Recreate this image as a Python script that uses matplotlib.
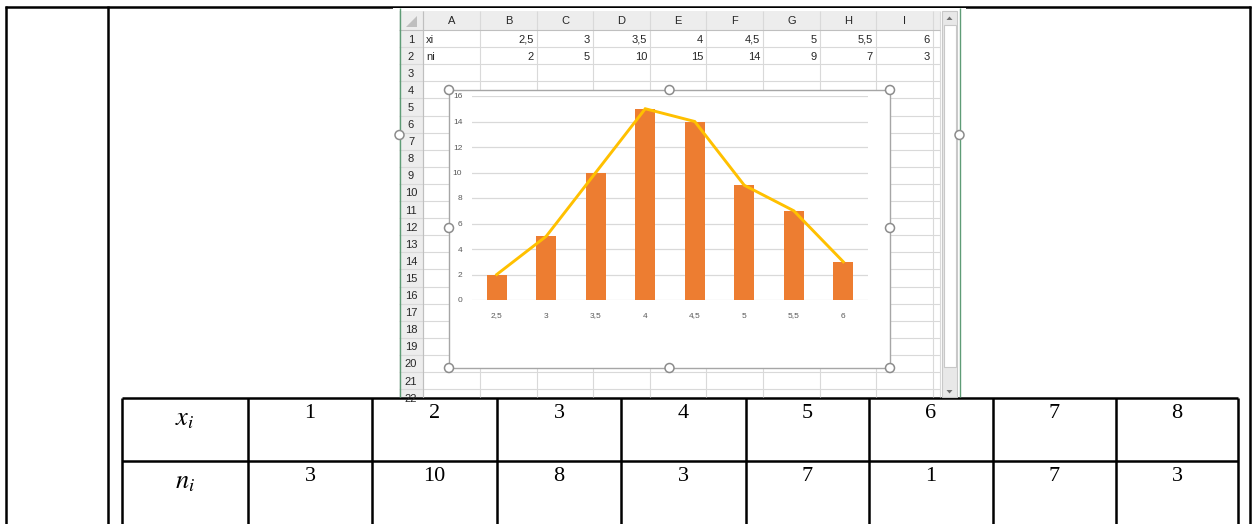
import matplotlib
matplotlib.use("Agg")
import matplotlib.pyplot as plt
from matplotlib.patches import Rectangle, Circle, Polygon

# ---------------- data ----------------
xi_labels = ["2,5", "3", "3,5", "4", "4,5", "5", "5,5", "6"]
ni_values = [2, 5, 10, 15, 14, 9, 7, 3]
col_letters = ["A", "B", "C", "D", "E", "F", "G", "H", "I"]
row_names = ["xi", "ni"]
y_ticks = [0, 2, 4, 6, 8, 10, 12, 14, 16]

table_x = [1, 2, 3, 4, 5, 6, 7, 8]
table_n = [3, 10, 8, 3, 7, 1, 7, 3]
table_heads = [r"$x_i$", r"$n_i$"]

W, H = 1254, 524
fig = plt.figure(figsize=(W / 100, H / 100), dpi=100)
plt.rcParams["mathtext.fontset"] = "stix"
bg = fig.add_axes([0, 0, 1, 1])
bg.set_xlim(0, W)
bg.set_ylim(H, 0)
bg.axis("off")

def line(x0, y0, x1, y1, c="black", lw=1.0, z=1):
    bg.plot([x0, x1], [y0, y1], color=c, lw=lw, solid_capstyle="butt", zorder=z)

# ---------------- document table lines ----------------
LW = 1.8
line(5, 6.5, 1251, 6.5, lw=LW)
line(6, 6, 6, H, lw=LW)
line(108, 6, 108, H, lw=LW)
line(1250, 6, 1250, H, lw=LW)

# bottom table
tcols = [122, 248, 372, 497, 621, 746, 869, 993, 1116, 1238]
line(122, 398, 1238, 398, lw=LW)
line(122, 461, 1238, 461, lw=LW)
for x in tcols:
    line(x, 398, x, H, lw=LW)
for r, (head, vals) in enumerate(zip(table_heads, [table_x, table_n])):
    ytop = 404 + r * 63
    bg.text((tcols[0] + tcols[1]) / 2, ytop + 1, head, fontsize=19, ha="center", va="top")
    for i, v in enumerate(vals):
        bg.text((tcols[i + 1] + tcols[i + 2]) / 2, ytop, str(v),
                fontsize=16, family="Liberation Serif", ha="center", va="top")

# ---------------- Excel screenshot ----------------
SX0, SX1, SY0, SY1 = 393, 966, 7.5, 397
bg.add_patch(Rectangle((SX0, SY0), SX1 - SX0, SY1 - SY0, fc="white", ec="none", zorder=2))

col_edges = [423, 480, 537, 593, 650, 706, 763, 820, 876, 933]
hdr_top, hdr_bot = 11, 30
row_h = 17.1
grid_c = "#D9D9D9"
ex_font = dict(family="Liberation Sans", fontsize=8, color="#262626", zorder=4)

# header row background
bg.add_patch(Rectangle((399, hdr_top), 940 - 399, hdr_bot - hdr_top, fc="#EDEDED", ec="none", zorder=2.5))
# row header column background
bg.add_patch(Rectangle((399, hdr_bot), 423 - 399, SY1 - hdr_bot, fc="#EDEDED", ec="none", zorder=2.5))
bg.add_patch(Polygon([[417, 16], [417, 27], [406, 27]], closed=True, fc="#BFBFBF", ec="none", zorder=3))

# grid lines
for x in col_edges + [940]:
    line(x, hdr_top, x, SY1, c=grid_c, lw=0.8, z=2.6)
line(399, hdr_bot, 940, hdr_bot, c="#BFBFBF", lw=0.8, z=2.6)
for k in range(1, 23):
    y = hdr_bot + k * row_h
    if y < SY1:
        line(399, y, 940, y, c=grid_c, lw=0.8, z=2.6)
line(423, hdr_top, 423, SY1, c="#BFBFBF", lw=0.8, z=2.6)

# column letters
for i, c in enumerate(col_letters):
    bg.text((col_edges[i] + col_edges[i + 1]) / 2, (hdr_top + hdr_bot) / 2 + 0.5, c,
            ha="center", va="center", **ex_font)
# row numbers
for k in range(1, 23):
    yc = hdr_bot + (k - 0.5) * row_h
    if yc - 6 < SY1:
        bg.text(411, yc + 1, str(k), ha="center", va="center", clip_on=True, **ex_font)

# cell contents
for r, (name, vals) in enumerate(zip(row_names, [xi_labels, [str(v) for v in ni_values]])):
    yc = hdr_bot + (r + 0.5) * row_h + 1
    bg.text(426, yc, name, ha="left", va="center", **ex_font)
    for i, v in enumerate(vals):
        bg.text(col_edges[i + 2] - 3, yc, v, ha="right", va="center", **ex_font)

# scrollbar
bg.add_patch(Rectangle((942, hdr_top), 15, SY1 - hdr_top, fc="#E8E8E8", ec="#C8C8C8", lw=0.8, zorder=2.7))
bg.add_patch(Rectangle((943.5, 25), 12, 342, fc="white", ec="#C8C8C8", lw=0.8, zorder=2.8))
bg.add_patch(Polygon([[946.5, 20], [952.5, 20], [949.5, 16.5]], closed=True, fc="#707070", ec="none", zorder=3))
bg.add_patch(Polygon([[946.5, 390], [952.5, 390], [949.5, 393.5]], closed=True, fc="#707070", ec="none", zorder=3))

# green borders of the window
line(399.5, SY0, 399.5, SY1, c="#5E9C76", lw=1.0, z=3)
line(959.5, SY0, 959.5, SY1, c="#5E9C76", lw=1.0, z=3)

# chart area
CX0, CX1, CY0, CY1 = 449, 890, 90, 368
bg.add_patch(Rectangle((CX0, CY0), CX1 - CX0, CY1 - CY0, fc="white", ec="#A6A6A6", lw=1.0, zorder=3))

def handle(x, y):
    bg.add_patch(Circle((x, y), 4.5, fc="white", ec="#8C8C8C", lw=1.1, zorder=6))

for hx, hy in [(CX0, CY0), ((CX0 + CX1) / 2, CY0), (CX1, CY0), (CX0, 228), (CX1, 228),
               (CX0, CY1), ((CX0 + CX1) / 2, CY1), (CX1, CY1), (399.5, 135), (959.5, 135)]:
    handle(hx, hy)

# ---------------- the chart itself ----------------
PX0, PX1, PY0, PY1 = 472, 868, 96, 300
ax = fig.add_axes([PX0 / W, 1 - PY1 / H, (PX1 - PX0) / W, (PY1 - PY0) / H])
ax.set_facecolor("none")
ax.set_zorder(5)
pos = list(range(len(xi_labels)))
ax.bar(pos, ni_values, width=0.4, color="#ED7D31", zorder=2)
ax.plot(pos, ni_values, color="#FFC000", lw=2.1, zorder=3, solid_joinstyle="miter")
ax.set_xlim(-0.5, len(xi_labels) - 0.5)
ax.set_ylim(0, 16)
ax.set_yticks(y_ticks)
ax.set_xticks(pos)
ax.set_xticklabels(xi_labels)
ax.yaxis.grid(True, color="#D9D9D9", lw=0.9, zorder=0)
ax.set_axisbelow(True)
for s in ax.spines.values():
    s.set_visible(False)
ax.tick_params(length=0, labelsize=6, labelcolor="#595959", pad=9)
ax.tick_params(axis="y", pad=7)
for t in ax.get_xticklabels() + ax.get_yticklabels():
    t.set_family("Liberation Sans")

fig.savefig("out.png", dpi=100)
